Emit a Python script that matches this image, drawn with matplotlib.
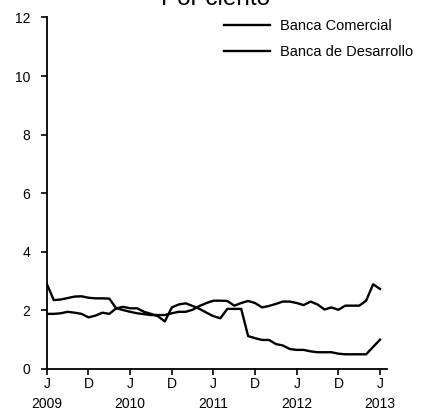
import matplotlib.pyplot as plt
import numpy as np

plt.rcParams['font.family'] = ['Liberation Sans', 'DejaVu Sans']

# monthly rates, J 2009 .. J 2013
comercial = [2.90, 2.35, 2.37, 2.42, 2.47, 2.48, 2.43, 2.41, 2.41, 2.40,
             2.07, 2.01, 1.95, 1.90, 1.87, 1.84, 1.84, 1.84, 1.90, 1.95,
             1.95, 2.02, 2.15, 2.25, 2.33, 2.33, 2.32, 2.16, 2.25, 2.32,
             2.25, 2.10, 2.15, 2.22, 2.30, 2.30, 2.25, 2.18, 2.30, 2.20,
             2.03, 2.10, 2.02, 2.16, 2.16, 2.16, 2.33, 2.89, 2.73]
desarrollo = [1.88, 1.88, 1.90, 1.95, 1.92, 1.88, 1.76, 1.82, 1.92, 1.88,
              2.07, 2.12, 2.07, 2.07, 1.95, 1.88, 1.80, 1.62, 2.10, 2.20,
              2.24, 2.15, 2.05, 1.92, 1.80, 1.73, 2.05, 2.05, 2.05, 1.12,
              1.05, 0.99, 0.99, 0.85, 0.80, 0.68, 0.65, 0.65, 0.60, 0.57,
              0.57, 0.57, 0.52, 0.50, 0.50, 0.50, 0.50, 0.75, 1.00]
tick_labels = ['J\n2009', 'D', 'J\n2010', 'D', 'J\n2011', 'D', 'J\n2012', 'D', 'J\n2013']

fig = plt.figure(figsize=(4.22, 4.15), dpi=100)
ax = fig.add_axes([0.111, 0.111, 0.806, 0.847])

x = np.arange(len(comercial))
ax.plot(x, comercial, color='black', lw=1.7, label='Banca Comercial')
ax.plot(x, desarrollo, color='black', lw=1.7, label='Banca de Desarrollo')

ax.set_xlim(0, 49)
ax.set_ylim(0, 12)
ax.set_yticks(range(0, 13, 2))
ax.set_xticks(range(0, 49, 6))
ax.set_xticklabels(tick_labels, linespacing=1.55)

for s in ['top', 'right']:
    ax.spines[s].set_visible(False)
for s in ['left', 'bottom']:
    ax.spines[s].set_linewidth(1.3)
ax.tick_params(axis='both', direction='out', length=4, width=1.2, labelsize=10)
ax.tick_params(axis='y', pad=8)
ax.tick_params(axis='x', pad=2)

ax.legend(loc='upper left', bbox_to_anchor=(0.531, 0.955), bbox_transform=fig.transFigure,
          frameon=False, fontsize=10.5, handlelength=3.15, handletextpad=0.7,
          labelspacing=0.85, borderpad=0, borderaxespad=0)

fig.text(0.51, 1 - 5 / 415, 'Por ciento', ha='center', va='baseline', fontsize=17.5)

fig.savefig('out.png', dpi=100)
